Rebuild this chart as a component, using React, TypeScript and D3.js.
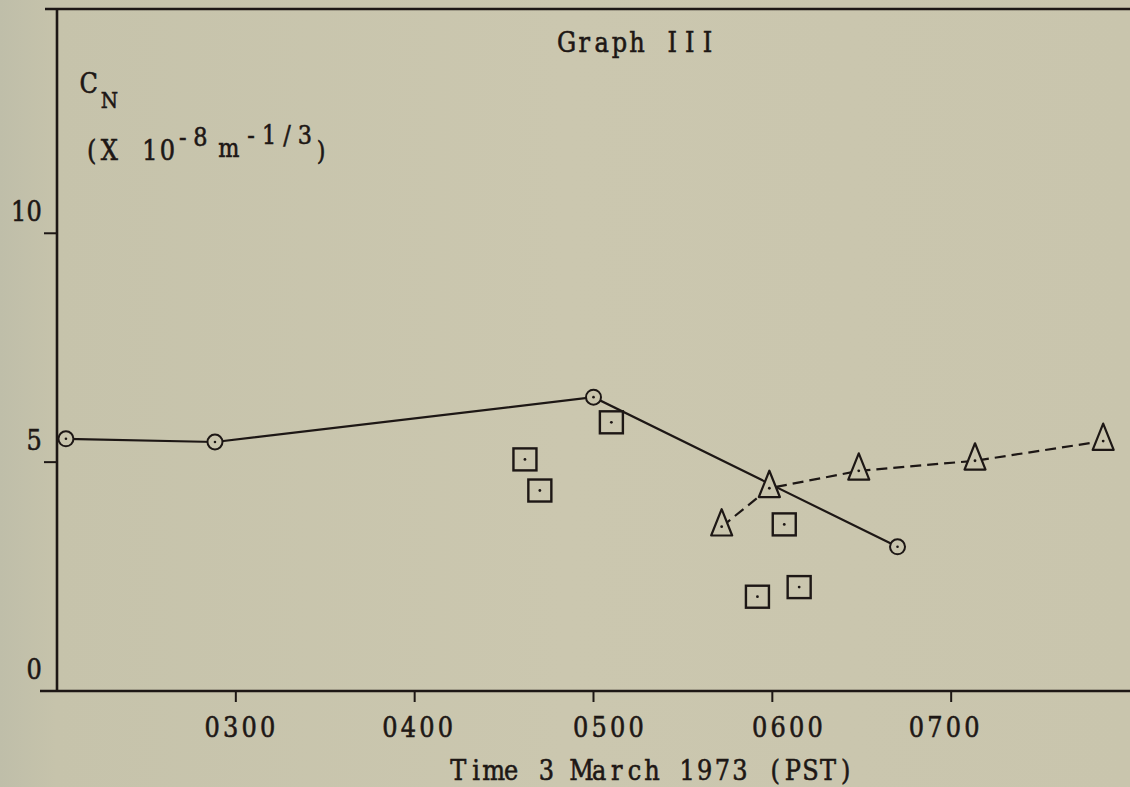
import React from "react";
import * as d3 from "d3";

// ---- data ----
const circleTimes = ["0203", "0253", "0500", "0642"];
const circleValues = [5.51, 5.44, 6.42, 3.15];

const triangleTimes = ["0543", "0559", "0629", "0708", "0751"];
const triangleValues = [3.59, 4.43, 4.81, 5.03, 5.46];

const squareTimes = ["0437", "0442", "0506", "0555", "0604", "0609"];
const squareValues = [5.06, 4.38, 5.87, 2.06, 3.64, 2.27];

const xTickTimes = ["0300", "0400", "0500", "0600", "0700"];
const yTickValues = [0, 5, 10];

const titleText = "Graph III";
const xAxisTitle = "Time 3 March 1973 (PST)";

// ---- layout / style ----
const W = 1130;
const H = 787;
const INK = "#1d1715";
const BG = "#c9c5ad";
const SERIF = "'DejaVu Serif', 'Liberation Serif', serif";
const ADV = 17.6; // typewriter character pitch
const SX = 0.86; // horizontal squeeze of glyphs
const xLabelNudge = [4, 3, 15, 15, -7]; // typewriter placement of the tick labels

const toHours = (t: string) => +t.slice(0, 2) + +t.slice(2) / 60;

const x = d3.scaleLinear().domain([2, 8]).range([57, 1130]);
const y = d3.scaleLinear().domain([0, 14.9]).range([691, 9]);

type Pt = { t: string; v: number };
const zip = (ts: string[], vs: number[]): Pt[] => ts.map((t, i) => ({ t, v: vs[i] }));

const circles = zip(circleTimes, circleValues);
const triangles = zip(triangleTimes, triangleValues);
const squares = zip(squareTimes, squareValues);

const line = d3
  .line<Pt>()
  .x((d) => x(toHours(d.t)))
  .y((d) => y(d.v));

// Typewriter-style text: every character centred in a fixed-pitch cell.
function Mono(props: {
  x: number;
  y: number;
  text: string;
  size?: number;
  adv?: number;
  anchor?: "start" | "middle" | "end";
}) {
  const { text, size = 28, adv = ADV, anchor = "start" } = props;
  const total = text.length * adv;
  const start = anchor === "start" ? props.x : anchor === "middle" ? props.x - total / 2 : props.x - total;
  const xs = Array.from(text).map((_, i) => ((start + adv * (i + 0.5)) / SX).toFixed(2));
  return (
    <text
      transform={`scale(${SX},1)`}
      x={xs.join(" ")}
      y={props.y}
      textAnchor="middle"
      fontFamily={SERIF}
      fontSize={size}
      fill={INK}
      stroke={INK}
      strokeWidth={0.6}
      style={{ whiteSpace: "pre" }}
    >
      {text}
    </text>
  );
}

export default function App() {
  const x0 = x.range()[0];
  const y0 = y.range()[0];
  const yTop = y.range()[1];
  return (
    <svg
      width={W}
      height={H}
      viewBox={`0 0 ${W} ${H}`}
      style={{ position: "absolute", left: 0, top: 0, display: "block" }}
    >
      <defs>
        <linearGradient id="bgGrad" x1="0" x2="1" y1="0" y2="0">
          <stop offset="0" stopColor="#bfbea9" />
          <stop offset="0.05" stopColor="#c6c3ab" />
          <stop offset="0.5" stopColor="#cbc7af" />
          <stop offset="1" stopColor="#c9c5ad" />
        </linearGradient>
      </defs>
      <rect x={0} y={0} width={W} height={H} fill="url(#bgGrad)" />

      {/* frame: top line, y axis, x axis */}
      <line x1={45} x2={W} y1={yTop} y2={yTop} stroke={INK} strokeWidth={2.6} />
      <line x1={x0} x2={x0} y1={yTop} y2={y0} stroke={INK} strokeWidth={2.6} />
      <line x1={40} x2={W} y1={y0} y2={y0} stroke={INK} strokeWidth={2.6} />

      {/* y ticks */}
      {yTickValues.map((v) => (
        <g key={"yt" + v}>
          <line x1={44} x2={x0} y1={y(v)} y2={y(v)} stroke={INK} strokeWidth={2} />
          <Mono x={42} y={y(v) - 12} text={String(v)} anchor="end" adv={15.5} />
        </g>
      ))}

      {/* x ticks */}
      {xTickTimes.map((t, i) => (
        <g key={"xt" + t}>
          <line x1={x(toHours(t))} x2={x(toHours(t))} y1={y0} y2={y0 + 11} stroke={INK} strokeWidth={2} />
          <Mono x={x(toHours(t)) + xLabelNudge[i]} y={y0 + 46} text={t} anchor="middle" adv={18.5} />
        </g>
      ))}

      {/* titles */}
      <Mono x={637} y={52} text={titleText} anchor="middle" />
      <Mono x={652} y={780} text={xAxisTitle} anchor="middle" />

      {/* y axis label */}
      <Mono x={80} y={93} text="C" />
      <Mono x={101} y={108} text="N" size={23} adv={17} />
      <Mono x={83} y={160} text="(X" />
      <Mono x={141} y={160} text="10" />
      <Mono x={174} y={146} text="-8" size={26} />
      <Mono x={220} y={157} text="m" size={26} />
      <Mono x={242} y={144} text="-1/3" size={26} adv={18} />
      <Mono x={314} y={160} text=")" size={26} adv={14} />

      {/* series lines */}
      <path d={line(circles) ?? ""} fill="none" stroke={INK} strokeWidth={2.2} />
      <path d={line(triangles) ?? ""} fill="none" stroke={INK} strokeWidth={2.2} strokeDasharray="11,6" />

      {/* circle markers */}
      {circles.map((d, i) => (
        <g key={"c" + i} transform={`translate(${x(toHours(d.t))},${y(d.v)})`}>
          <circle r={7.5} fill={BG} stroke={INK} strokeWidth={2} />
          <circle r={1.3} fill={INK} />
        </g>
      ))}

      {/* triangle markers */}
      {triangles.map((d, i) => (
        <g key={"t" + i} transform={`translate(${x(toHours(d.t))},${y(d.v)})`}>
          <path d="M0,-17.5 L10.5,8.8 L-10.5,8.8 Z" fill={BG} stroke={INK} strokeWidth={2.2} strokeLinejoin="round" />
          <circle r={1.4} fill={INK} />
        </g>
      ))}

      {/* square markers */}
      {squares.map((d, i) => (
        <g key={"s" + i} transform={`translate(${x(toHours(d.t))},${y(d.v)})`}>
          <rect x={-11.5} y={-11} width={23} height={22} fill="none" stroke={INK} strokeWidth={2.4} />
          <circle r={1.4} fill={INK} />
        </g>
      ))}
    </svg>
  );
}
